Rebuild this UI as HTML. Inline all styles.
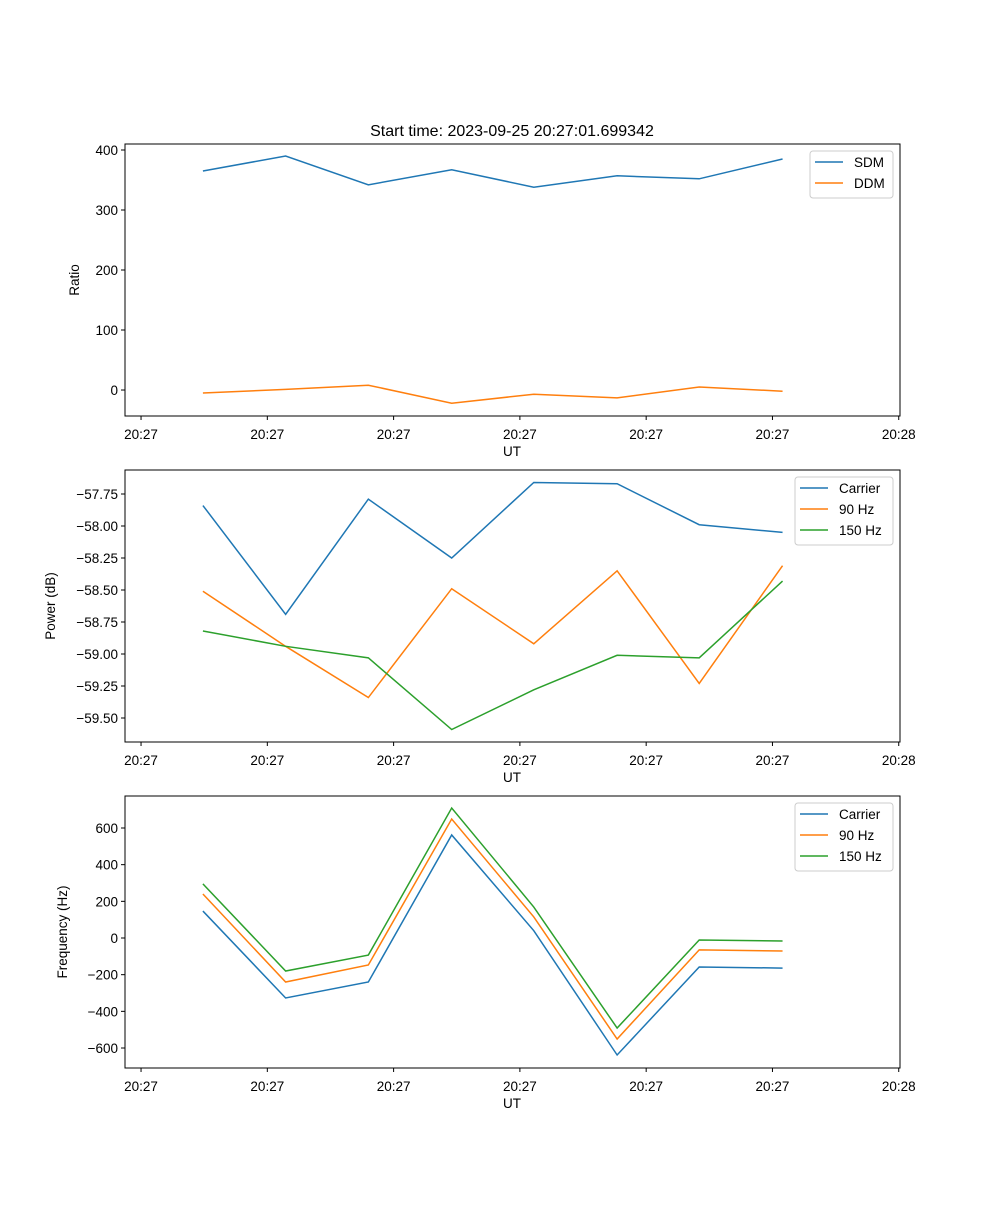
<!DOCTYPE html>
<html><head><meta charset="utf-8"><style>
body{margin:0;background:#fff}
svg text{font-family:"Liberation Sans","DejaVu Sans",sans-serif;font-size:13.5px;fill:#000}
</style></head><body>
<svg id="fig" width="1000" height="1200" xmlns="http://www.w3.org/2000/svg">
<rect width="1000" height="1200" fill="#fff"/>
<text x="512" y="136" text-anchor="middle" style="font-size:16px">Start time: 2023-09-25 20:27:01.699342</text>
</svg>
<script>
const times=[4.9,11.45,18.0,24.6,31.1,37.7,44.2,50.8];
const xTicks=[0,10,20,30,40,50,60];
const xTickLabels=["20:27","20:27","20:27","20:27","20:27","20:27","20:28"];
const sdm=[365,390,342,367,338,357,352,385];
const ddm=[-5,1,8,-22,-7,-13,5,-2];
const ratioTicks=[400,300,200,100,0];
const powCarrier=[-57.84,-58.69,-57.79,-58.25,-57.66,-57.67,-57.99,-58.05];
const pow90=[-58.51,-58.94,-59.34,-58.49,-58.92,-58.35,-59.23,-58.31];
const pow150=[-58.82,-58.94,-59.03,-59.59,-59.28,-59.01,-59.03,-58.43];
const powTicks=[-57.75,-58.00,-58.25,-58.50,-58.75,-59.00,-59.25,-59.50];
const freqCarrier=[147,-327,-240,562,40,-638,-158,-164];
const freq90=[240,-240,-147,649,115,-551,-65,-71];
const freq150=[295,-180,-93,709,169,-491,-11,-16];
const freqTicks=[600,400,200,0,-200,-400,-600];
const NS="http://www.w3.org/2000/svg";
const svg=document.getElementById('fig');
function mk(t,a,txt){const e=document.createElementNS(NS,t);for(const k in a)e.setAttribute(k,a[k]);if(txt!==undefined)e.textContent=txt;svg.appendChild(e);return e;}
const X0=125,X1=900,T0=-1.27,T1=60.1;
function xs(t){return X0+(t-T0)/(T1-T0)*(X1-X0);}
function panel(id,top,ymin,ymax,yticks,fmt,ylabel,ylabelX,series,legend){
  const bot=top+272;
  const ys=v=>bot-(v-ymin)/(ymax-ymin)*272;
  series.forEach(s=>{
    const p=mk('polyline',{points:s.vals.map((v,i)=>xs(times[i])+','+ys(v)).join(' '),fill:'none',stroke:s.color,'stroke-width':1.5});
    
    
  });
  const r=mk('rect',{x:X0,y:top,width:X1-X0,height:272,fill:'none',stroke:'#000','stroke-width':1});
  
  xTicks.forEach((t,i)=>{
    const x=xs(t);
    const l=mk('line',{x1:x,x2:x,y1:bot,y2:bot+4,stroke:'#000'});
    
    const tx=mk('text',{x:x,y:bot+23,'text-anchor':'middle'},xTickLabels[i]);
    
  });
  yticks.forEach(v=>{
    const y=ys(v);
    const l=mk('line',{x1:X0-4,x2:X0,y1:y,y2:y,stroke:'#000'});
    
    const tx=mk('text',{x:X0-7,y:y+5,'text-anchor':'end'},fmt(v));
    
  });
  const xl=mk('text',{x:512,y:bot+40,'text-anchor':'middle'},'UT');
  
  const yl=mk('text',{x:ylabelX,y:top+136,'text-anchor':'middle',transform:`rotate(-90 ${ylabelX} ${top+136})`},ylabel);
  
  const lb=mk('rect',{x:legend.x,y:top+7,width:893-legend.x,height:series.length*21+5,rx:3,fill:'#fff',stroke:'#ccc','fill-opacity':0.8});
  
  series.forEach((s,i)=>{
    const y=top+18+i*21;
    const l=mk('line',{x1:legend.x+5,x2:legend.x+33,y1:y,y2:y,stroke:s.color,'stroke-width':1.5});
    
    const t=mk('text',{x:legend.x+44,y:y+5},s.label);
    
  });
}
const B='#1f77b4',O='#ff7f0e',G='#2ca02c';
panel('ratio-chart',144,-43.3,410,ratioTicks,v=>String(v),'Ratio',79,
 [{key:'sdm',label:'SDM',vals:sdm,color:B},{key:'ddm',label:'DDM',vals:ddm,color:O}],{x:810});
panel('power-chart',470,-59.6875,-57.5625,powTicks,v=>'\u2212'+Math.abs(v).toFixed(2),'Power (dB)',55,
 [{key:'carrier',label:'Carrier',vals:powCarrier,color:B},{key:'90hz',label:'90 Hz',vals:pow90,color:O},{key:'150hz',label:'150 Hz',vals:pow150,color:G}],{x:795});
panel('frequency-chart',796,-709,774.5,freqTicks,v=>(v<0?'\u2212':'')+Math.abs(v),'Frequency (Hz)',67,
 [{key:'carrier',label:'Carrier',vals:freqCarrier,color:B},{key:'90hz',label:'90 Hz',vals:freq90,color:O},{key:'150hz',label:'150 Hz',vals:freq150,color:G}],{x:795});
</script>
</body></html>
